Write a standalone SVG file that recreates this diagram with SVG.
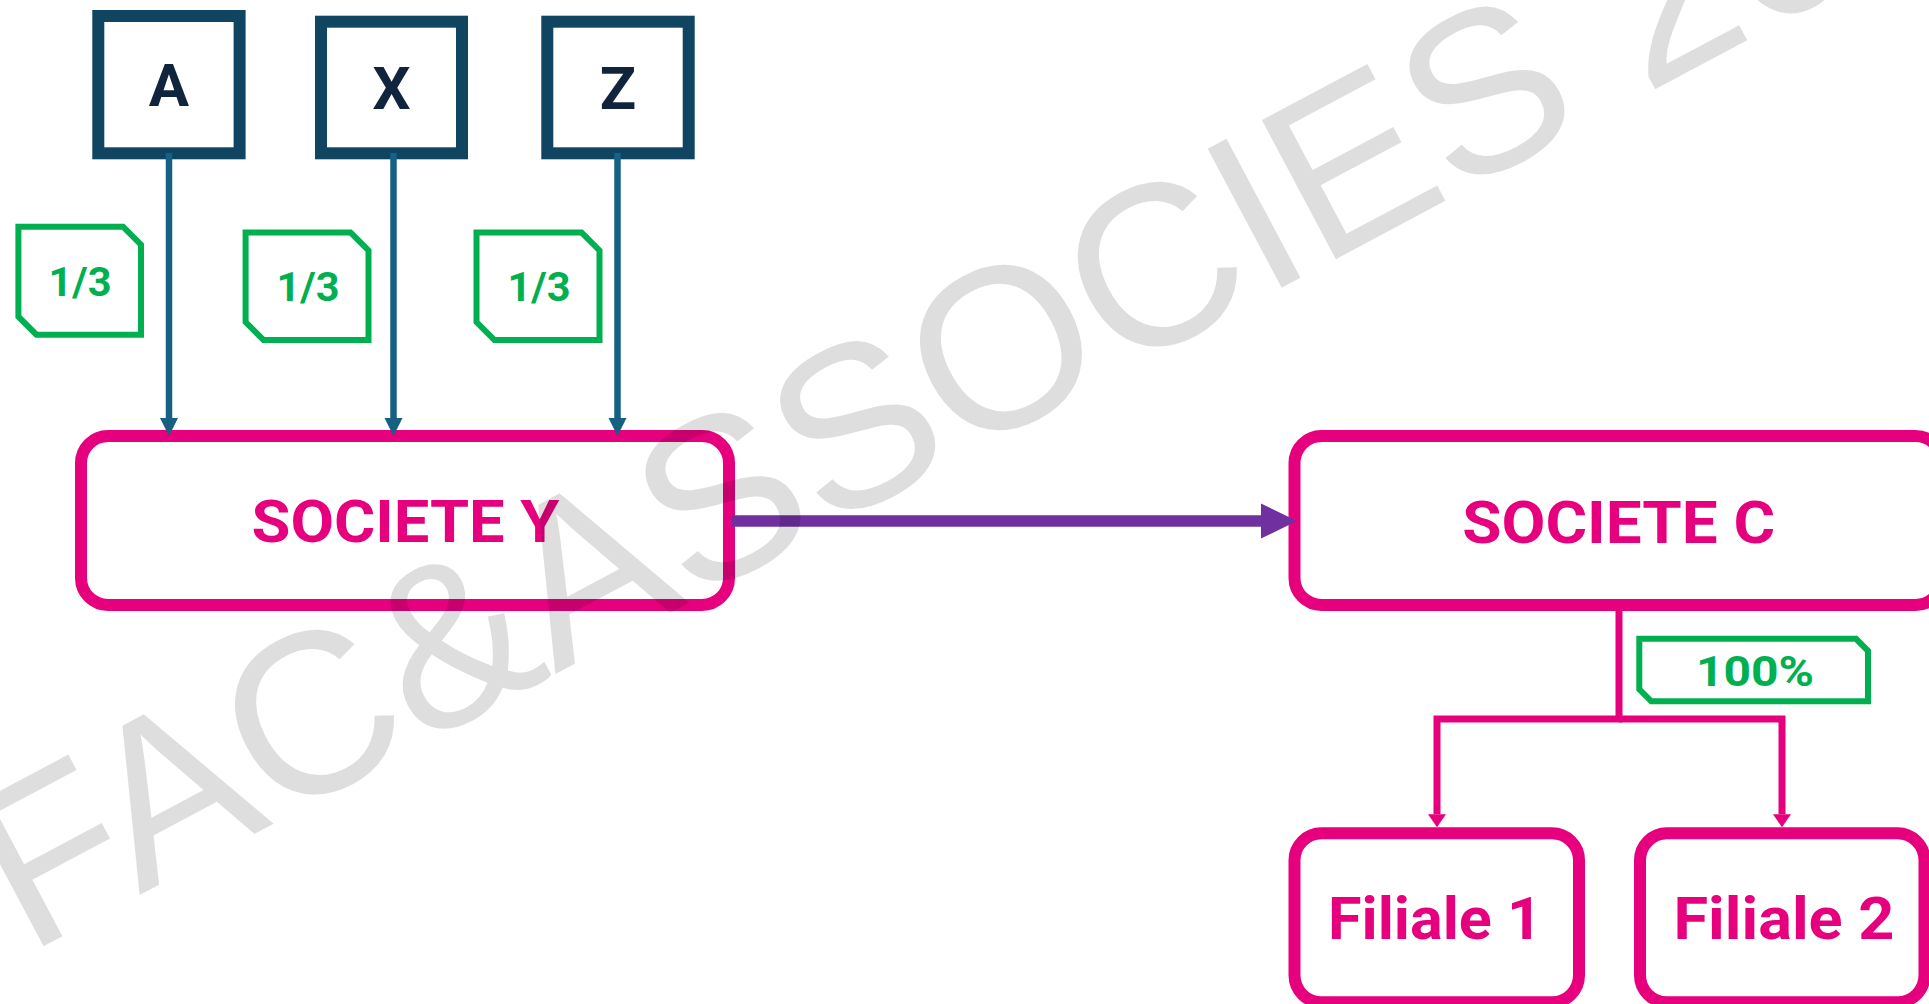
<svg xmlns="http://www.w3.org/2000/svg" width="1929" height="1004" viewBox="0 0 1929 1004">
  <style>
    .owner rect { fill: #ffffff; stroke: #0f4561; stroke-width: 12; }
    .owner text { fill: #10243e; font-family: "Roboto", "Liberation Sans", sans-serif; font-weight: 700; font-size: 60px; text-anchor: middle; }
    .company rect { fill: #ffffff; stroke: #e6007e; stroke-width: 12; }
    .company text { fill: #e6007e; font-family: "Roboto", "Liberation Sans", sans-serif; font-weight: 700; text-anchor: middle; }
    .share path { fill: #ffffff; stroke: #00b050; stroke-width: 6; stroke-linejoin: miter; }
    .share text { fill: #00b050; font-family: "Roboto", "Liberation Sans", sans-serif; font-weight: 700; text-anchor: middle; }
    .link-owner { fill: none; stroke: #166082; stroke-width: 6.5; }
    .link-sub { fill: none; stroke: #e6007e; stroke-width: 7; stroke-linejoin: miter; }
    .link-main { fill: none; stroke: #7030a0; stroke-width: 11.7; }
    .watermark { fill: #000000; fill-opacity: 0.13; font-family: "Liberation Sans", Arial, sans-serif; font-size: 229px; }
  </style>
  <defs>
    <marker id="head-owner" markerUnits="userSpaceOnUse" markerWidth="18" markerHeight="18" refX="0" refY="9" orient="auto" overflow="visible">
      <path d="M0,0 L18,9 L0,18 Z" fill="#166082"/>
    </marker>
    <marker id="head-sub" markerUnits="userSpaceOnUse" markerWidth="13" markerHeight="18" refX="0" refY="9" orient="auto" overflow="visible">
      <path d="M0,0 L13,9 L0,18 Z" fill="#e6007e"/>
    </marker>
    <marker id="head-main" markerUnits="userSpaceOnUse" markerWidth="36" markerHeight="35" refX="0" refY="17.5" orient="auto" overflow="visible">
      <path d="M0,0 L36,17.5 L0,35 Z" fill="#7030a0"/>
    </marker>
  </defs>

  <rect width="1929" height="1004" fill="#ffffff"/>

  <!-- shareholders -->
  <g id="owner-a" class="owner">
    <rect x="98.3" y="16" width="141.3" height="137.3"/>
    <text x="169" y="106">A</text>
  </g>
  <g id="owner-x" class="owner">
    <rect x="321" y="21.7" width="141" height="131.6"/>
    <text x="391.5" y="109">X</text>
  </g>
  <g id="owner-z" class="owner">
    <rect x="547.3" y="21.7" width="141.4" height="131.6"/>
    <text x="618" y="108.7">Z</text>
  </g>

  <!-- share labels -->
  <g id="share-a" class="share">
    <path d="M18.4,226.7 H123 L141,244.7 V334.7 H36.4 L18.4,316.7 Z"/>
    <text x="80" y="295.7" font-size="40" textLength="63" lengthAdjust="spacingAndGlyphs">1/3</text>
  </g>
  <g id="share-x" class="share">
    <path d="M245.6,232.5 H350.5 L368.5,250.5 V340 H263.6 L245.6,322 Z"/>
    <text x="308" y="300.7" font-size="40" textLength="63" lengthAdjust="spacingAndGlyphs">1/3</text>
  </g>
  <g id="share-z" class="share">
    <path d="M476.5,232.5 H581.5 L599.5,250.5 V340 H494.5 L476.5,322 Z"/>
    <text x="539" y="300.7" font-size="40" textLength="63" lengthAdjust="spacingAndGlyphs">1/3</text>
  </g>
  <g id="share-c" class="share">
    <path d="M1639.3,638.8 H1856 L1868,650.8 V701.3 H1651.3 L1639.3,689.3 Z"/>
    <text x="1755" y="686" font-size="43" textLength="118" lengthAdjust="spacingAndGlyphs">100%</text>
  </g>

  <!-- companies -->
  <g id="societe-y" class="company">
    <rect x="81" y="436" width="648" height="169" rx="27" ry="27"/>
    <text x="405.5" y="542.3" font-size="60" textLength="308" lengthAdjust="spacingAndGlyphs">SOCIETE Y</text>
  </g>
  <g id="societe-c" class="company">
    <rect x="1294.5" y="436" width="648" height="169" rx="27" ry="27"/>
    <text x="1618.7" y="542.7" font-size="60" textLength="313" lengthAdjust="spacingAndGlyphs">SOCIETE C</text>
  </g>
  <g id="filiale-1" class="company">
    <rect x="1294.5" y="833.3" width="284.5" height="169" rx="27" ry="27"/>
    <text x="1435" y="939.3" font-size="59" textLength="214" lengthAdjust="spacingAndGlyphs">Filiale 1</text>
  </g>
  <g id="filiale-2" class="company">
    <rect x="1640" y="833.3" width="284.5" height="169" rx="27" ry="27"/>
    <text x="1784" y="939.3" font-size="59" textLength="221" lengthAdjust="spacingAndGlyphs">Filiale 2</text>
  </g>

  <!-- connectors -->
  <g id="connectors">
    <path class="link-owner" d="M169,153 V418" marker-end="url(#head-owner)"/>
    <path class="link-owner" d="M393.5,153 V418" marker-end="url(#head-owner)"/>
    <path class="link-owner" d="M617.5,153 V418" marker-end="url(#head-owner)"/>
    <path class="link-main" d="M731.7,521 H1261" marker-end="url(#head-main)"/>
    <path class="link-sub" d="M1619,605 V719 H1437 V814.3" marker-end="url(#head-sub)"/>
    <path class="link-sub" d="M1619,719 H1782 V814.3" marker-end="url(#head-sub)"/>
  </g>

  <!-- watermark -->
  <text class="watermark" transform="translate(27,955) rotate(-28)">FAC&amp;ASSOCIES 20</text>
</svg>
